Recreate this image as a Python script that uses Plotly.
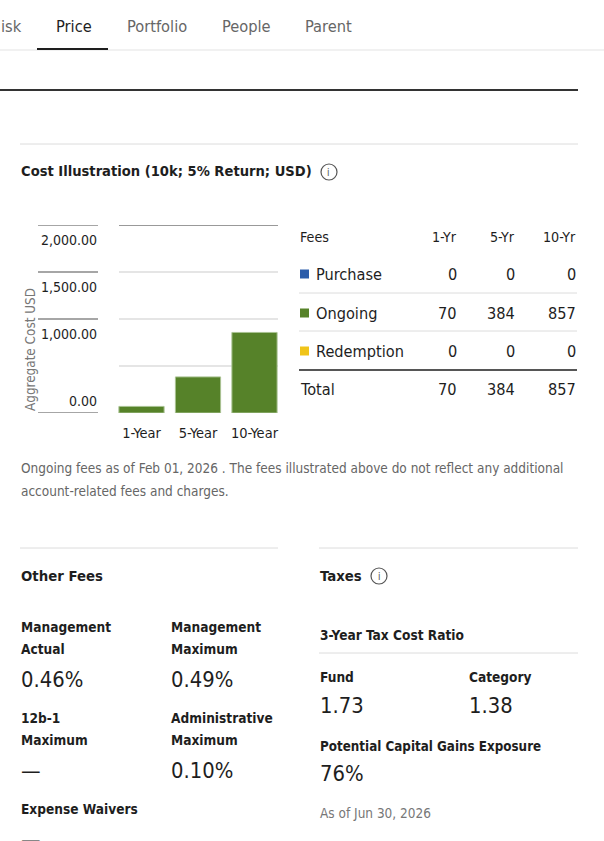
import plotly.graph_objects as go

W, H = 604, 841
FONT = 'DejaVu Sans Condensed, Liberation Sans Narrow, Liberation Sans, sans-serif'

# data
periods = ['1-Year', '5-Year', '10-Year']
ongoing_cost = [70, 384, 857]
y_ticks = [0, 1000, 1500, 2000]
y_tick_text = ['0.00', '1,000.00', '1,500.00', '2,000.00']
grid_vals = [500, 1000, 1500, 2000]

table_cols = ['1-Yr', '5-Yr', '10-Yr']
fee_names = ['Purchase', 'Ongoing', 'Redemption']
fee_colors = ['#2a5caa', '#568229', '#f0c419']
purchase_fees = [0, 0, 0]
ongoing_fees = [70, 384, 857]
redemption_fees = [0, 0, 0]
total_fees = [70, 384, 857]

tabs = ['isk', 'Price', 'Portfolio', 'People', 'Parent']
tab_x = [0, 55, 126, 221, 304]

other_fees_labels = [['Management', 'Actual'], ['Management', 'Maximum'], ['12b-1', 'Maximum'],
                     ['Administrative', 'Maximum'], ['Expense Waivers']]
other_fees_values = ['0.46%', '0.49%', '—', '0.10%', '—']

tax_ratio_fund = 1.73
tax_ratio_category = 1.38
cap_gains_exposure = '76%'


def px(x):
    return x / W


def py(y):
    return 1 - y / H


fig = go.Figure()

fig.add_trace(go.Bar(x=periods,
                     y=ongoing_cost,
                     marker={'color': '#568229',
                             'line': {'color': '#a9c292', 'width': 1}},
                     hoverinfo='skip',
                     showlegend=False))

annotations = []
shapes = []


def text(x, y, s, size=14, color='#1e1e1e', xanchor='left', yanchor='middle', **kw):
    annotations.append(dict(x=px(x), y=py(y), xref='paper', yref='paper', text=s,
                            showarrow=False, xanchor=xanchor, yanchor=yanchor, borderpad=0,
                            font={'size': size, 'color': color, 'family': FONT}, **kw))


def hline(x0, x1, y, color='#dcdcdc', width=1):
    shapes.append(dict(type='line', xref='paper', yref='paper',
                       x0=px(x0), x1=px(x1), y0=py(y), y1=py(y),
                       line={'color': color, 'width': width}))


def info_icon(x, y):
    shapes.append(dict(type='circle', xref='paper', yref='paper',
                       x0=px(x - 8), x1=px(x + 8), y0=py(y + 8), y1=py(y - 8),
                       line={'color': '#555', 'width': 1.2}))
    text(x, y, 'i', size=10, color='#555', xanchor='center')


# tab strip
for t, x in zip(tabs, tab_x):
    text(x, 27, t, size=16.3, color='#1e1e1e' if t == 'Price' else '#666')
hline(0, 604, 50, color='#e3e3e3')
hline(37, 108, 49, color='#1e1e1e', width=2)
hline(0, 578, 90, color='#333', width=2)

# cost illustration
hline(20, 578, 144)
text(20, 171, '<b>Cost Illustration (10k; 5% Return; USD)</b>', size=14.6)
info_icon(329, 172)

for v in grid_vals:
    shapes.append(dict(type='line', xref='paper', yref='y', x0=px(119), x1=px(278), y0=v, y1=v,
                       layer='below',
                       line={'color': '#777' if v == max(grid_vals) else '#dcdcdc', 'width': 1.5}))
for v, s in zip(y_ticks, y_tick_text):
    shapes.append(dict(type='line', xref='paper', yref='y', x0=px(38), x1=px(98), y0=v, y1=v,
                       line={'color': '#888', 'width': 1.5}))
    annotations.append(dict(x=px(98), y=v, xref='paper', yref='y', text=s, showarrow=False,
                            xanchor='right', yanchor='middle', yshift=12 if v == 0 else -15,
                            borderpad=0,
                            font={'size': 14, 'color': '#1e1e1e', 'family': FONT}))
text(30, 350, 'Aggregate Cost USD', size=13.4, color='#777', xanchor='center', textangle=-90)

# fee table
col_right = [458, 516, 577]
row_y = [274, 313, 351]
text(299, 237, 'Fees', size=14.2)
for c, x in zip(table_cols, col_right):
    text(x, 237, c, size=14.2, xanchor='right')
for name, color, vals, y in zip(fee_names, fee_colors,
                                [purchase_fees, ongoing_fees, redemption_fees], row_y):
    shapes.append(dict(type='rect', xref='paper', yref='paper',
                       x0=px(300), x1=px(309), y0=py(y + 4.5), y1=py(y - 4.5),
                       fillcolor=color, line={'width': 0}))
    text(315, y, name, size=16.2)
    for v, x in zip(vals, col_right):
        text(x, y, f'{v:,}', size=16.2, xanchor='right')
hline(299, 577, 293)
hline(299, 577, 331)
hline(299, 577, 370, color='#1e1e1e', width=1.5)
text(299, 389, 'Total', size=16.2)
for v, x in zip(total_fees, col_right):
    text(x, 389, f'{v:,}', size=16.2, xanchor='right')

text(20, 468, 'Ongoing fees as of Feb 01, 2026 . The fees illustrated above do not reflect any additional',
     size=13.5, color='#666')
text(20, 491, 'account-related fees and charges.', size=13.5, color='#666')

# other fees
hline(20, 278, 548)
hline(319, 578, 548)
text(20, 575, '<b>Other Fees</b>', size=14.8)
fee_pos = [(20, 627), (170, 627), (20, 718), (170, 718), (20, 809)]
for (x, y), lab, val in zip(fee_pos, other_fees_labels, other_fees_values):
    for i, line in enumerate(lab):
        text(x, y + 22 * i, f'<b>{line}</b>', size=13.6)
    text(x, y + 22 * (len(lab) - 1) + 30, val, size=21.8)

# taxes
text(319, 575, '<b>Taxes</b>', size=14.8)
info_icon(379, 576)
text(319, 635, '<b>3-Year Tax Cost Ratio</b>', size=13.6)
hline(319, 578, 653)
text(319, 677, '<b>Fund</b>', size=13.6)
text(319, 705, f'{tax_ratio_fund:.2f}', size=21.8)
text(468, 677, '<b>Category</b>', size=13.6)
text(468, 705, f'{tax_ratio_category:.2f}', size=21.8)
text(319, 746, '<b>Potential Capital Gains Exposure</b>', size=13.3)
text(319, 773, cap_gains_exposure, size=21.8)
text(319, 813, 'As of Jun 30, 2026', size=13.5, color='#777')

fig.update_layout(width=W, height=H,
                  margin={'l': 0, 'r': 0, 't': 0, 'b': 0},
                  paper_bgcolor='white',
                  plot_bgcolor='white',
                  font={'family': FONT, 'color': '#1e1e1e'},
                  bargap=0.2,
                  xaxis={'domain': [px(113.25), px(282.75)],
                         'showgrid': False, 'zeroline': False, 'showline': False,
                         'tickfont': {'size': 14.5, 'color': '#1e1e1e'},
                         'ticks': '', 'ticklabelstandoff': 9, 'fixedrange': True},
                  yaxis={'domain': [py(413), py(225)], 'range': [0, 2000],
                         'showgrid': False, 'zeroline': False, 'showline': False,
                         'showticklabels': False, 'fixedrange': True},
                  annotations=annotations,
                  shapes=shapes,
                  dragmode=False)

fig.write_html('out.html', config={'displayModeBar': False},
               post_script="document.body.style.margin='0';document.body.style.overflow='hidden';")
